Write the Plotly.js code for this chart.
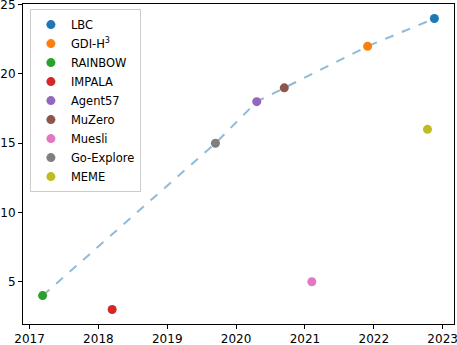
<!DOCTYPE html>
<html>
<head>
<meta charset="utf-8">
<script src="https://cdn.plot.ly/plotly-3.0.1.min.js"></script>
<style>
  html, body { margin: 0; padding: 0; background: #fff; }
  #plot1 { width: 457px; height: 345px; }
</style>
</head>
<body>
<div id="plot1"></div>
<script>
// names of the agents, in legend order
let agents = ["LBC", "GDI-H<sup>3</sup>", "RAINBOW", "IMPALA", "Agent57",
              "MuZero", "Muesli", "Go-Explore", "MEME"];

// year each agent came out
let years = [2022.88, 2021.91, 2017.19, 2018.2, 2020.3, 2020.7, 2021.1, 2019.7, 2022.78];

// score of each agent
let scores = [24, 22, 4, 3, 18, 19, 5, 15, 16];

// the agents that sit on the dashed frontier line, in time order
let frontier = ["RAINBOW", "Go-Explore", "Agent57", "MuZero", "GDI-H<sup>3</sup>", "LBC"];

let colors = ["#1f77b4", "#ff7f0e", "#2ca02c", "#d62728", "#9467bd",
              "#8c564b", "#e377c2", "#7f7f7f", "#bcbd22"];

// dashed line through the frontier agents
let lineTrace = {
    x: frontier.map(n => years[agents.indexOf(n)]),
    y: frontier.map(n => scores[agents.indexOf(n)]),
    type: "scatter",
    mode: "lines",
    line: {color: "rgba(31,119,180,0.5)", width: 2, dash: "dash"},
    showlegend: false,
    hoverinfo: "skip"
};

// one trace per agent so each gets its own legend entry
let data = [lineTrace];
agents.forEach((name, i) => {
    data.push({
        x: [years[i]],
        y: [scores[i]],
        type: "scatter",
        mode: "markers",
        name: name,
        marker: {color: colors[i], size: 9}
    });
});

let axisStyle = {
    showline: true,
    linecolor: "#000",
    linewidth: 1,
    mirror: true,
    ticks: "outside",
    ticklen: 4,
    tickcolor: "#000",
    showgrid: false,
    zeroline: false,
    ticklabeloverflow: "allow",
    tickfont: {family: "DejaVu Sans", size: 12, color: "#000"}
};

let layout = {
    width: 457,
    height: 345,
    margin: {l: 23, r: 3, t: 4, b: 21},
    paper_bgcolor: "#fff",
    plot_bgcolor: "#fff",
    font: {family: "DejaVu Sans", size: 11, color: "#000"},
    xaxis: Object.assign({}, axisStyle, {range: [2016.905, 2023.165], dtick: 1, tick0: 2017}),
    yaxis: Object.assign({}, axisStyle, {range: [1.95, 25.05], dtick: 5, tick0: 0}),
    legend: {
        x: 0.016, y: 0.984, xanchor: "left", yanchor: "top",
        bgcolor: "rgba(255,255,255,0.8)",
        bordercolor: "#cccccc",
        borderwidth: 1,
        font: {family: "DejaVu Sans", size: 11.5, color: "#000"},
        tracegroupgap: 0
    },
    showlegend: true
};

Plotly.newPlot('plot1', data, layout, {displayModeBar: false, staticPlot: true});
</script>
</body>
</html>
